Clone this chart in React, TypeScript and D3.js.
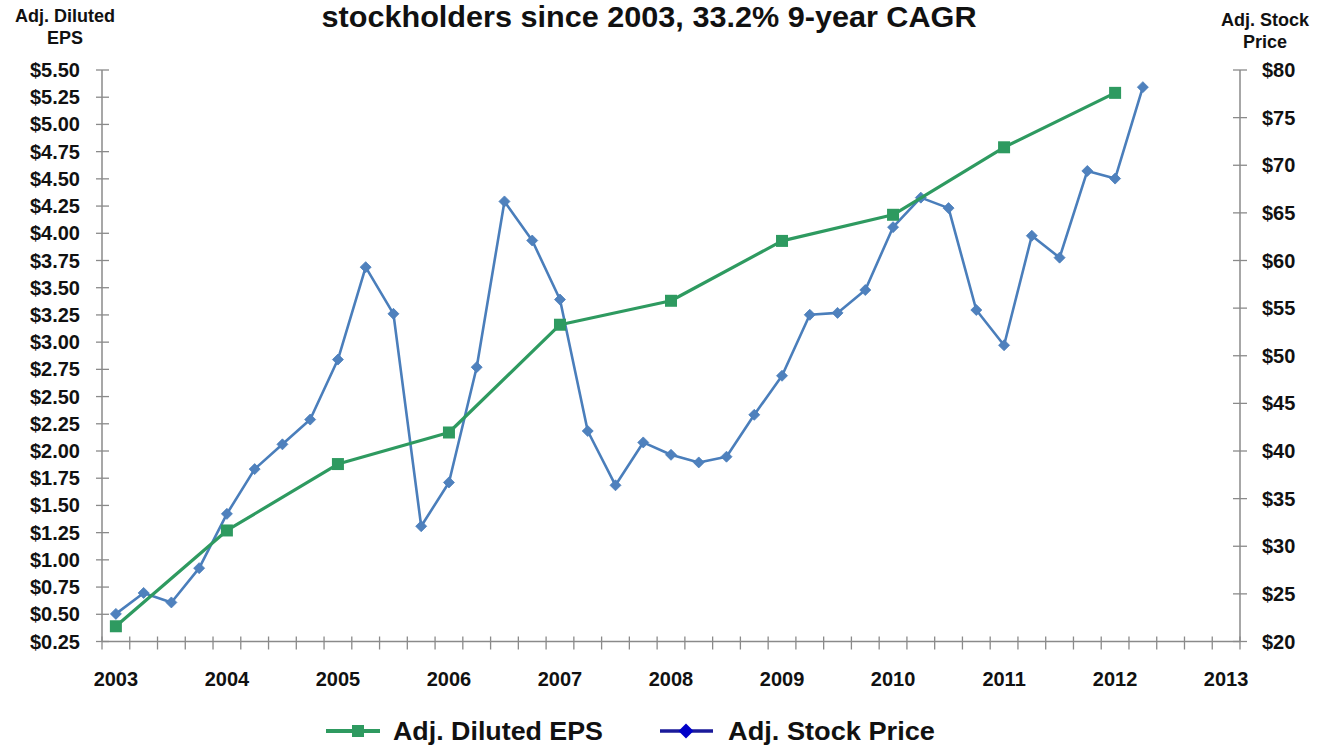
import React from "react";
import * as d3 from "d3";

const titleText = "stockholders since 2003, 33.2% 9-year CAGR";
const leftAxisTitle = ["Adj. Diluted", "EPS"];
const rightAxisTitle = ["Adj. Stock", "Price"];
const yearLabels = [2003, 2004, 2005, 2006, 2007, 2008, 2009, 2010, 2011, 2012, 2013];
const quarterCount = 41; // 2003 Q1 .. 2013 Q1
const epsYears = [2003, 2004, 2005, 2006, 2007, 2008, 2009, 2010, 2011, 2012];
const epsValues = [0.39, 1.27, 1.88, 2.17, 3.16, 3.38, 3.93, 4.17, 4.79, 5.29];
const stockPrices = [
  22.9, 25.1, 24.1, 27.7, 33.4, 38.1, 40.7, 43.3, 49.6, 59.3, 54.4, 32.1, 36.7,
  48.8, 66.2, 62.1, 55.9, 42.1, 36.4, 40.9, 39.6, 38.8, 39.4, 43.8, 47.9, 54.3,
  54.5, 56.9, 63.5, 66.6, 65.5, 54.8, 51.1, 62.6, 60.3, 69.4, 68.6, 78.2,
];
const leftTicks = d3.range(0.25, 5.5001, 0.25);
const rightTicks = d3.range(20, 80.001, 5);
const legendItems = ["Adj. Diluted EPS", "Adj. Stock Price"];

const W = 1328;
const H = 751;
const L = 102;
const R = 1240;
const T = 70;
const B = 641.5;

const EPS_COLOR = "#2e9a60";
const STOCK_COLOR = "#4a7ebb";
const STOCK_MARK = "#4f81bd";
const AXIS = "#8a8a8a";
const FONT = "'Liberation Sans', Arial, sans-serif";

export default function App() {
  const quarters = d3.range(quarterCount);
  const xBand = d3.scaleBand<number>().domain(quarters).range([L, R]).paddingInner(0).paddingOuter(0);
  const bw = xBand.bandwidth();
  const xc = (q: number) => (xBand(q) as number) + bw / 2;
  const yL = d3.scaleLinear().domain([0.25, 5.5]).range([B, T]);
  const yR = d3.scaleLinear().domain([20, 80]).range([B, T]);

  const epsPts: [number, number][] = epsValues.map((v, i) => [xc((epsYears[i] - 2003) * 4), yL(v)]);
  const stockPts: [number, number][] = stockPrices.map((v, i) => [xc(i), yR(v)]);
  const line = d3.line();
  const diamond = (cx: number, cy: number, r: number) =>
    `M${cx},${cy - r}L${cx + r},${cy}L${cx},${cy + r}L${cx - r},${cy}Z`;

  const boundaries = d3.range(quarterCount + 1).map((i) => L + i * bw);

  return (
    <svg width={W} height={H} style={{ position: "absolute", left: 0, top: 0, background: "#fff" }} fontFamily={FONT}>
      <rect x={0} y={0} width={W} height={H} fill="#fff" />
      {/* title */}
      <text x={649} y={27} textAnchor="middle" fontSize={29} fontWeight="bold" fill="#111" textLength={655} lengthAdjust="spacingAndGlyphs">
        {titleText}
      </text>
      {/* axis titles */}
      {leftAxisTitle.map((t, i) => (
        <text key={t} x={65} y={22 + i * 22} textAnchor="middle" fontSize={18} fontWeight="bold" fill="#111">
          {t}
        </text>
      ))}
      {rightAxisTitle.map((t, i) => (
        <text key={t} x={1265} y={26 + i * 22} textAnchor="middle" fontSize={18} fontWeight="bold" fill="#111">
          {t}
        </text>
      ))}
      {/* axes */}
      <line x1={L} x2={L} y1={T} y2={B} stroke={AXIS} strokeWidth={1.5} />
      <line x1={R} x2={R} y1={T} y2={B} stroke={AXIS} strokeWidth={1.5} />
      <line x1={L} x2={R} y1={B} y2={B} stroke={AXIS} strokeWidth={1.5} />
      {leftTicks.map((v) => (
        <g key={"l" + v}>
          <line x1={L - 6} x2={L + 7} y1={yL(v)} y2={yL(v)} stroke={AXIS} strokeWidth={1.3} />
          <text x={80} y={yL(v) + 7} textAnchor="end" fontSize={20} fontWeight="bold" fill="#111">
            {"$" + v.toFixed(2)}
          </text>
        </g>
      ))}
      {rightTicks.map((v) => (
        <g key={"r" + v}>
          <line x1={R - 7} x2={R + 7} y1={yR(v)} y2={yR(v)} stroke={AXIS} strokeWidth={1.3} />
          <text x={1262} y={yR(v) + 7} textAnchor="start" fontSize={20} fontWeight="bold" fill="#111">
            {"$" + v}
          </text>
        </g>
      ))}
      {boundaries.map((bx, i) => (
        <line key={"b" + i} x1={bx} x2={bx} y1={B - 5} y2={B + 8} stroke={AXIS} strokeWidth={1.3} />
      ))}
      {yearLabels.map((yr) => (
        <text key={yr} x={xc((yr - 2003) * 4)} y={686} textAnchor="middle" fontSize={20} fontWeight="bold" fill="#111">
          {yr}
        </text>
      ))}
      {/* stock series */}
      <path d={line(stockPts) || ""} fill="none" stroke={STOCK_COLOR} strokeWidth={2.6} strokeLinejoin="round" />
      {stockPts.map(([px, py], i) => (
        <path key={"s" + i} d={diamond(px, py, 5.5)} fill={STOCK_MARK} stroke={STOCK_COLOR} strokeWidth={0.8} />
      ))}
      {/* eps series */}
      <path d={line(epsPts) || ""} fill="none" stroke={EPS_COLOR} strokeWidth={3.2} strokeLinejoin="round" />
      {epsPts.map(([px, py], i) => (
        <rect key={"e" + i} x={px - 6} y={py - 6} width={12} height={12} fill={EPS_COLOR} />
      ))}
      {/* legend */}
      <g>
        <line x1={326} x2={380} y1={731} y2={731} stroke={EPS_COLOR} strokeWidth={4} />
        <rect x={352} y={725} width={12} height={12} fill={EPS_COLOR} />
        <text x={393} y={740} fontSize={25} fontWeight="bold" fill="#111" textLength={210} lengthAdjust="spacingAndGlyphs">
          {legendItems[0]}
        </text>
        <line x1={660} x2={713} y1={731} y2={731} stroke="#1a1a9a" strokeWidth={3.5} />
        <path d={diamond(686, 731, 7.5)} fill="#0000c8" />
        <text x={728} y={740} fontSize={25} fontWeight="bold" fill="#111" textLength={207} lengthAdjust="spacingAndGlyphs">
          {legendItems[1]}
        </text>
      </g>
    </svg>
  );
}
